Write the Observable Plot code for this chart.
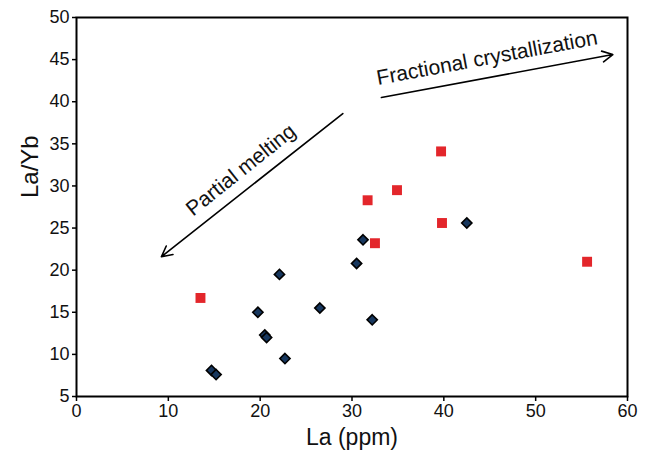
<!DOCTYPE html>
<html>
<head>
<meta charset="utf-8">
<script src="https://cdn.jsdelivr.net/npm/d3@7"></script>
<script src="https://cdn.jsdelivr.net/npm/@observablehq/plot@0.6"></script>
<style>
  html, body { margin: 0; padding: 0; background: #fff; }
  svg { font-family: "Liberation Sans", Arial, sans-serif; }
</style>
</head>
<body>
<div id="chart"></div>
<script>
// Group A (red squares): La (ppm), La/Yb
const redLa   = [13.5, 31.7, 34.9, 39.7, 32.5, 39.8, 55.6];
const redLaYb = [16.7, 28.3, 29.5, 34.1, 23.2, 25.6, 21.0];
// Group B (dark diamonds)
const blueLa   = [42.5, 31.2, 30.5, 22.1, 19.75, 26.5, 20.5, 20.7, 22.7, 14.7, 15.2, 32.2];
const blueLaYb = [25.6, 23.6, 20.8, 19.5, 15.0, 15.5, 12.3, 12.0, 9.5, 8.1, 7.6, 14.1];
// Tick labels and axis titles
const xTicks = [0, 10, 20, 30, 40, 50, 60];
const yTicks = [5, 10, 15, 20, 25, 30, 35, 40, 45, 50];
const xTitle = "La (ppm)";
const yTitle = "La/Yb";
// Annotation arrows (data coordinates) and their labels
const arrowNames = ["Partial melting", "Fractional crystallization"];
const arrowX1 = [29.0, 33.2];
const arrowY1 = [38.6, 40.5];
const arrowX2 = [9.25, 58.4];
const arrowY2 = [21.6, 45.6];
const labelX = [17.9, 44.7];
const labelY = [31.9, 45.2];
const labelRotate = [-38.5, -10.5];

const red = redLa.map((x, i) => ({x, y: redLaYb[i]}));
const blue = blueLa.map((x, i) => ({x, y: blueLaYb[i]}));
const arrows = arrowNames.map((name, i) => ({name, x1: arrowX1[i], y1: arrowY1[i], x2: arrowX2[i], y2: arrowY2[i]}));
const labels = arrowNames.map((name, i) => ({name, x: labelX[i], y: labelY[i], rotate: labelRotate[i]}));

const chart = Plot.plot({
  width: 650,
  height: 452,
  marginLeft: 76,
  marginRight: 23,
  marginTop: 17,
  marginBottom: 56,
  style: {fontFamily: "'Liberation Sans', Arial, sans-serif", background: "#fff"},
  x: {domain: [0, 60], ticks: xTicks},
  y: {domain: [5, 50], ticks: yTicks},
  marks: [
    Plot.frame({stroke: "black", strokeWidth: 2}),
    Plot.axisX({ticks: xTicks, tickSize: 5, tickPadding: 3, fontSize: 18, stroke: "black", strokeWidth: 1.5, fill: "#111", label: null}),
    Plot.axisY({ticks: yTicks, tickSize: 4, tickPadding: 3, fontSize: 18, stroke: "black", strokeWidth: 1.5, fill: "#111", label: null}),
    Plot.text([xTitle], {frameAnchor: "bottom", dy: 41, lineAnchor: "middle", fontSize: 23, fill: "#111"}),
    Plot.text([yTitle], {frameAnchor: "left", dx: -46, dy: -9, rotate: -90, lineAnchor: "middle", fontSize: 24, fill: "#111"}),
    Plot.arrow(arrows, {x1: "x1", y1: "y1", x2: "x2", y2: "y2", stroke: "black", strokeWidth: 1.6, headLength: 11, headAngle: 55}),
    Plot.text(labels, {x: "x", y: "y", text: "name", rotate: "rotate", fontSize: 21, fill: "#111"}),
    Plot.dot(red, {x: "x", y: "y", symbol: "square", r: 5.6, fill: "#e3262b", stroke: "none"}),
    Plot.dot(blue, {x: "x", y: "y", symbol: "diamond2", r: 4.6, fill: "#17375e", stroke: "black", strokeWidth: 1.6})
  ]
});
document.getElementById("chart").appendChild(chart);
</script>
</body>
</html>
